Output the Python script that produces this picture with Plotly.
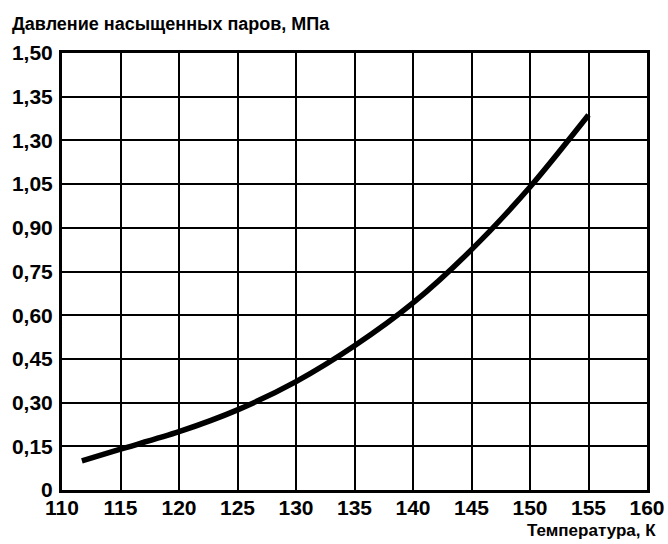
import plotly.graph_objects as go

# Data
temperature_K = [111.7, 115, 120, 125, 130, 135, 140, 145, 150, 155]
pressure_MPa = [0.10, 0.14, 0.20, 0.275, 0.372, 0.495, 0.642, 0.825, 1.04, 1.287]

x_ticks = [110, 115, 120, 125, 130, 135, 140, 145, 150, 155, 160]
y_tickvals = [0, 0.15, 0.30, 0.45, 0.60, 0.75, 0.90, 1.05, 1.20, 1.35, 1.50]
y_ticktext = ["0", "0,15", "0,30", "0,45", "0,60", "0,75", "0,90", "1,05", "1,30", "1,35", "1,50"]

FONT = "Liberation Sans"

fig = go.Figure()
fig.add_trace(go.Scatter(
    x=temperature_K, y=pressure_MPa, mode="lines",
    line=dict(color="black", width=5.5, shape="spline", smoothing=0.8),
    showlegend=False, hoverinfo="skip",
))

fig.update_layout(
    width=668, height=544,
    margin=dict(l=62, r=21, t=53, b=54, autoexpand=False),
    paper_bgcolor="white", plot_bgcolor="white",
    font=dict(family=FONT, color="black", size=19, weight="bold"),
    showlegend=False,
    annotations=[
        dict(text="Давление насыщенных паров, МПа", xref="paper", yref="paper",
             x=-0.0889, y=1.066, xanchor="left", yanchor="middle", showarrow=False,
             font=dict(family=FONT, size=18, color="black", weight="bold")),
        dict(text="Температура, К", xref="paper", yref="paper",
             x=1.019, y=-0.093, xanchor="right", yanchor="middle", showarrow=False,
             font=dict(family=FONT, size=17, color="black", weight="bold")),
    ],
)

fig.update_xaxes(
    range=[110, 160], tickvals=x_ticks, ticktext=[str(v) for v in x_ticks],
    showgrid=True, gridcolor="black", gridwidth=2,
    showline=True, linecolor="black", linewidth=3, mirror=True,
    ticks="", zeroline=False, ticklabelstandoff=-3,
    tickfont=dict(family=FONT, size=21, color="black", weight="bold"),
)
fig.update_yaxes(
    range=[0, 1.5], tickvals=y_tickvals, ticktext=y_ticktext,
    showgrid=True, gridcolor="black", gridwidth=2,
    showline=True, linecolor="black", linewidth=3, mirror=True,
    ticks="", zeroline=False, ticklabelstandoff=2,
    tickfont=dict(family=FONT, size=21, color="black", weight="bold"),
)

fig.write_html("out.html", config={"displayModeBar": False},
               post_script="document.body.style.margin='0';document.body.style.overflow='hidden';")
